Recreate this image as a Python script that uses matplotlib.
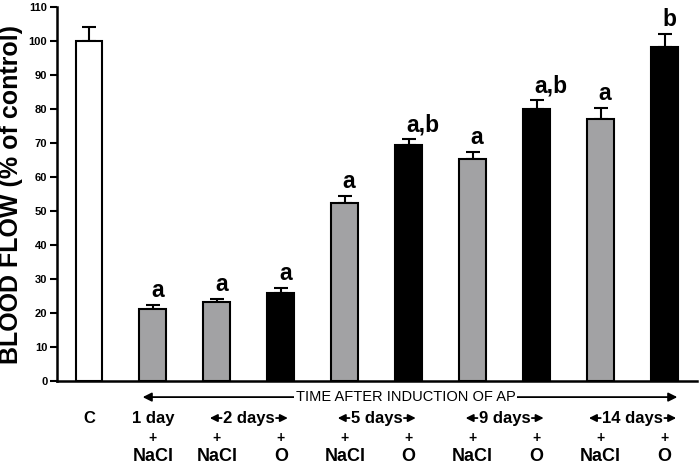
import numpy as np
import matplotlib.pyplot as plt
from matplotlib.text import OffsetFrom

plt.rcParams['font.family'] = ['Liberation Sans', 'DejaVu Sans']

# bar data, left to right
groups = ['C', '1d NaCl', '2d NaCl', '2d O', '5d NaCl', '5d O',
          '9d NaCl', '9d O', '14d NaCl', '14d O']
flow = [100, 21.2, 23.1, 26.0, 52.5, 69.3, 65.3, 80.0, 77.2, 98.3]
sem = [4.0, 1.1, 1.0, 1.5, 1.9, 1.9, 2.2, 2.6, 3.1, 3.8]
kind = ['control', 'nacl', 'nacl', 'o', 'nacl', 'o', 'nacl', 'o', 'nacl', 'o']
letters = ['', 'a', 'a', 'a', 'a', 'a,b', 'a', 'a,b', 'a', 'b']

day_labels = ['C', '1 day', '2 days', '5 days', '9 days', '14 days']
day_pos = [0, 1, 2.5, 4.5, 6.5, 8.5]
day_arrows = [False, False, True, True, True, True]
treat = ['', 'NaCl', 'NaCl', 'O', 'NaCl', 'O', 'NaCl', 'O', 'NaCl', 'O']

colors = {'control': 'white', 'nacl': '#a2a2a4', 'o': 'black'}

fig = plt.figure(figsize=(7, 4.65), dpi=100)
ax = fig.add_axes([0.0814, 0.1806, 0.9136, 0.8043])

x = np.arange(len(flow))
ax.bar(x, flow, width=0.42, color=[colors[k] for k in kind],
       edgecolor='black', linewidth=1.5, zorder=2)
ax.errorbar(x, flow, yerr=[np.zeros(len(sem)), sem], fmt='none',
            ecolor='black', elinewidth=1.5, capsize=5, capthick=1.5, zorder=1)

for xi, f, s, lab in zip(x, flow, sem, letters):
    if lab:
        ax.text(xi - 0.03, f + s + 0.8, lab, ha='left', va='bottom',
                fontsize=16.5, fontweight='bold')

ax.set_xlim(-0.5, 9.5)
ax.set_ylim(0, 110)
ax.set_yticks(np.arange(0, 111, 10))
ax.set_xticks([])
ax.tick_params(axis='y', direction='out', length=5, width=1.5, labelsize=8,
               pad=2)
for lbl in ax.get_yticklabels():
    lbl.set_fontweight('bold')
for side in ['top', 'right']:
    ax.spines[side].set_visible(False)
for side in ['left', 'bottom']:
    ax.spines[side].set_linewidth(1.8)

ax.set_ylabel('BLOOD FLOW (% of control)', fontsize=18, fontweight='bold',
              labelpad=4)

# time arrow below the axis
tr = ax.get_xaxis_transform()
ya = -0.043
head = dict(arrowstyle='-|>', color='black', lw=1.3, mutation_scale=13,
            shrinkA=0, shrinkB=0)
ax.annotate('', xy=(0.84, ya), xytext=(4.95, ya), xycoords=tr, textcoords=tr,
            arrowprops=head)
ax.annotate('', xy=(9.2, ya), xytext=(4.95, ya), xycoords=tr, textcoords=tr,
            arrowprops=head)
ax.text(4.95, ya, 'TIME AFTER INDUCTION OF AP', transform=tr, ha='center',
        va='center', fontsize=10.5,
        bbox=dict(facecolor='white', edgecolor='none', pad=1.5))

small = dict(arrowstyle='-|>', color='black', lw=1.3, mutation_scale=11,
             shrinkA=0, shrinkB=0)
for p, lab, arr in zip(day_pos, day_labels, day_arrows):
    t = ax.text(p, -0.099, lab, transform=tr, ha='center', va='center',
                fontsize=12, fontweight='bold')
    if arr:
        left = OffsetFrom(t, (0, 0.5))
        right = OffsetFrom(t, (1, 0.5))
        ax.annotate('', xy=(-9.5, 0), xycoords=left, xytext=(-1, 0),
                    textcoords=left, arrowprops=small)
        ax.annotate('', xy=(9.5, 0), xycoords=right, xytext=(1, 0),
                    textcoords=right, arrowprops=small)
for xi, tt in zip(x, treat):
    if tt:
        ax.text(xi, -0.152, '+', transform=tr, ha='center', va='center',
                fontsize=10, fontweight='bold')
        ax.text(xi, -0.203, tt, transform=tr, ha='center', va='center',
                fontsize=13, fontweight='bold')

fig.savefig('out.png', dpi=100)
